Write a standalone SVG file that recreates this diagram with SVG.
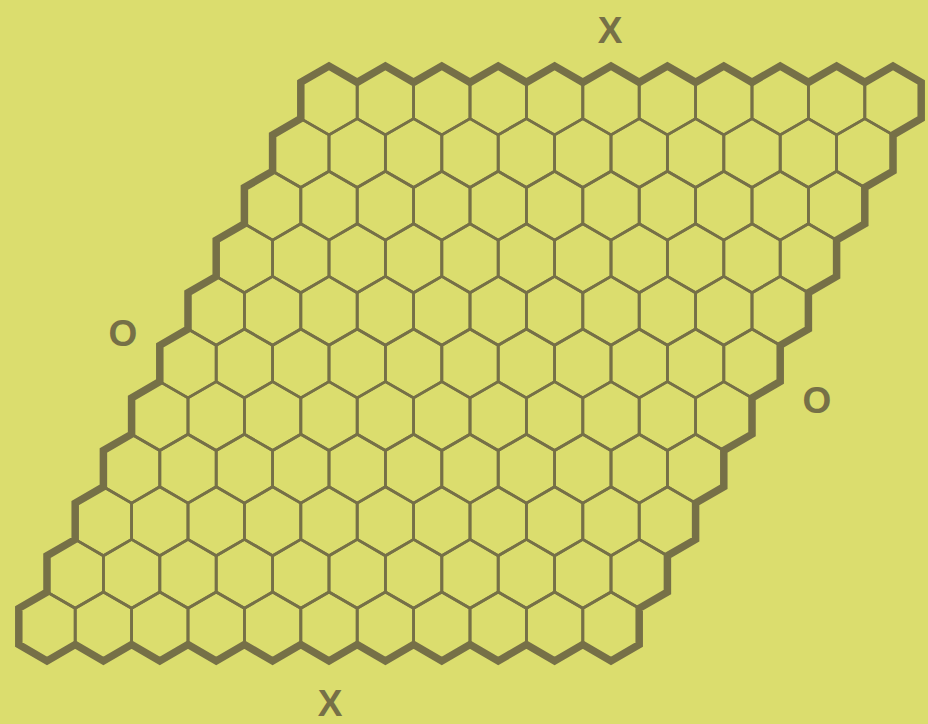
<svg xmlns="http://www.w3.org/2000/svg" xmlns:xlink="http://www.w3.org/1999/xlink" width="928" height="724" viewBox="0 0 928 724">
<style>
.hex{fill:none;stroke:#767047;stroke-width:2.8;stroke-linejoin:round}
.border{fill:none;stroke:#767047;stroke-width:7.5;stroke-linejoin:miter}
.lbl{font-family:"Liberation Sans",Arial,sans-serif;font-weight:bold;font-size:37px;fill:#767047;text-anchor:middle}
</style>
<defs>
<path id="h" class="hex" d="M0,-34.45 L28.2,-18.15 L28.2,18.15 L0,34.45 L-28.2,18.15 L-28.2,-18.15 Z"/>
<g id="row">
<use href="#h" x="0"/><use href="#h" x="56.4"/><use href="#h" x="112.8"/><use href="#h" x="169.2"/><use href="#h" x="225.6"/><use href="#h" x="282"/><use href="#h" x="338.4"/><use href="#h" x="394.8"/><use href="#h" x="451.2"/><use href="#h" x="507.6"/><use href="#h" x="564"/>
</g>
</defs>
<rect width="928" height="724" fill="#dbdd6e"/>
<g id="board">
<use href="#row" transform="translate(329,100.45)"/>
<use href="#row" transform="translate(300.8,153.05)"/>
<use href="#row" transform="translate(272.6,205.65)"/>
<use href="#row" transform="translate(244.4,258.25)"/>
<use href="#row" transform="translate(216.2,310.85)"/>
<use href="#row" transform="translate(188,363.45)"/>
<use href="#row" transform="translate(159.8,416.05)"/>
<use href="#row" transform="translate(131.6,468.65)"/>
<use href="#row" transform="translate(103.4,521.25)"/>
<use href="#row" transform="translate(75.2,573.85)"/>
<use href="#row" transform="translate(47,626.45)"/>
</g>
<path id="outline" class="border" d="M300.8,82.3
l28.2,-16.3 28.2,16.3 l28.2,-16.3 28.2,16.3 l28.2,-16.3 28.2,16.3 l28.2,-16.3 28.2,16.3 l28.2,-16.3 28.2,16.3 l28.2,-16.3 28.2,16.3 l28.2,-16.3 28.2,16.3 l28.2,-16.3 28.2,16.3 l28.2,-16.3 28.2,16.3 l28.2,-16.3 28.2,16.3 l28.2,-16.3 28.2,16.3
v36.3 l-28.2,16.3 v36.3 l-28.2,16.3 v36.3 l-28.2,16.3 v36.3 l-28.2,16.3 v36.3 l-28.2,16.3 v36.3 l-28.2,16.3 v36.3 l-28.2,16.3 v36.3 l-28.2,16.3 v36.3 l-28.2,16.3 v36.3 l-28.2,16.3 v36.3
l-28.2,16.3 -28.2,-16.3 l-28.2,16.3 -28.2,-16.3 l-28.2,16.3 -28.2,-16.3 l-28.2,16.3 -28.2,-16.3 l-28.2,16.3 -28.2,-16.3 l-28.2,16.3 -28.2,-16.3 l-28.2,16.3 -28.2,-16.3 l-28.2,16.3 -28.2,-16.3 l-28.2,16.3 -28.2,-16.3 l-28.2,16.3 -28.2,-16.3 l-28.2,16.3 -28.2,-16.3
v-36.3 l28.2,-16.3 v-36.3 l28.2,-16.3 v-36.3 l28.2,-16.3 v-36.3 l28.2,-16.3 v-36.3 l28.2,-16.3 v-36.3 l28.2,-16.3 v-36.3 l28.2,-16.3 v-36.3 l28.2,-16.3 v-36.3 l28.2,-16.3 v-36.3 l28.2,-16.3 v-36.3 Z"/>
<g id="labels">
<text class="lbl" x="610" y="43">X</text>
<text class="lbl" x="330" y="716">X</text>
<text class="lbl" x="123" y="346">O</text>
<text class="lbl" x="817" y="413">O</text>
</g>
</svg>
